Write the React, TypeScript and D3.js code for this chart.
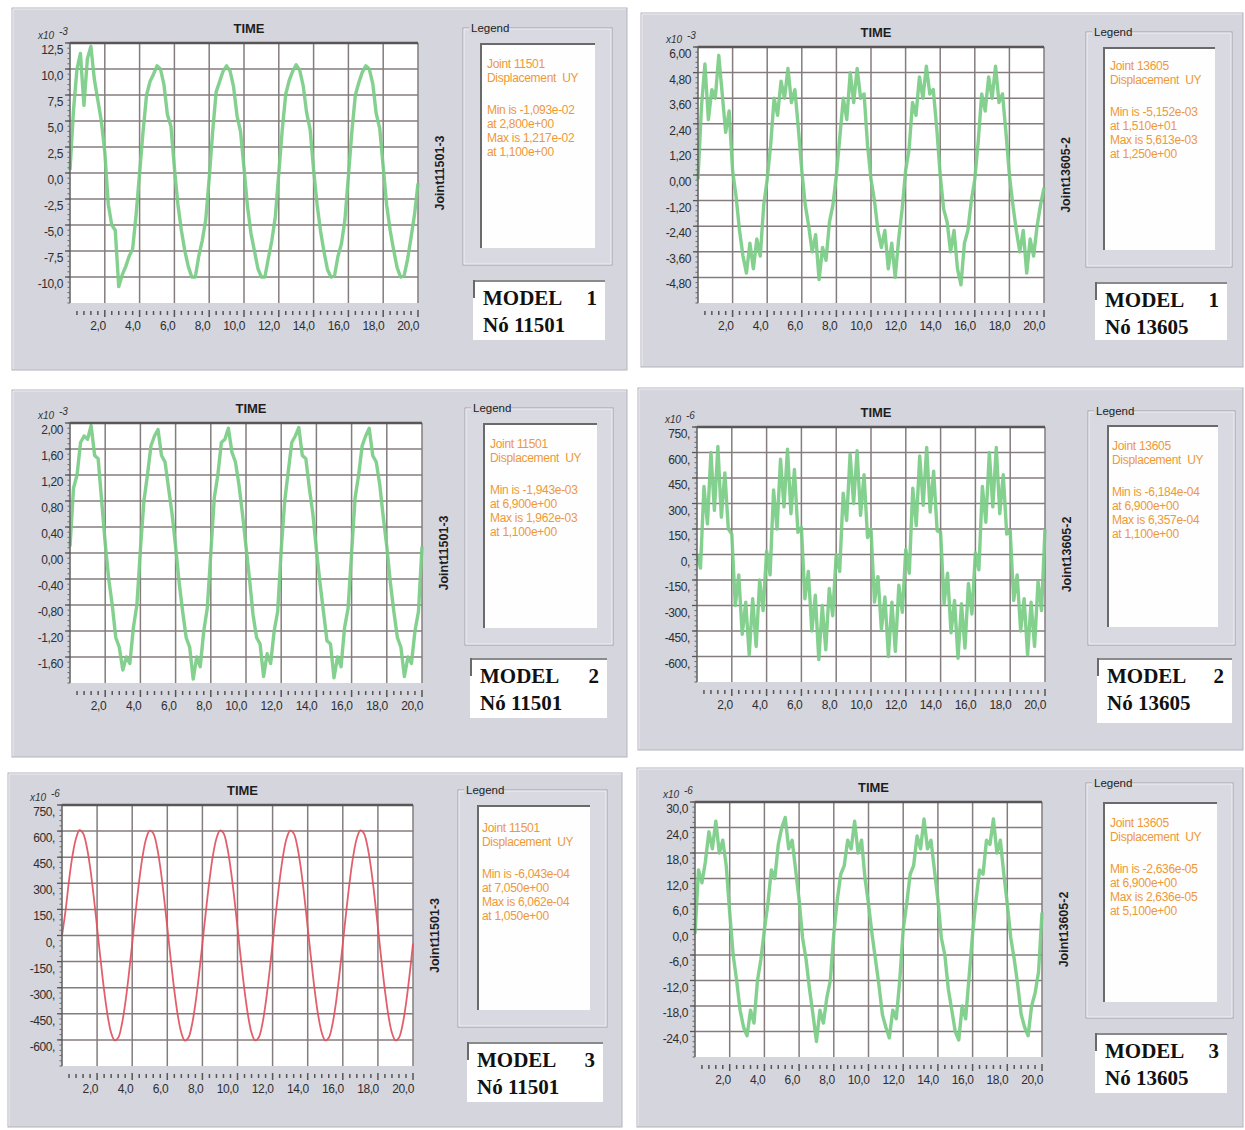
import React from "react";
import * as d3 from "d3";

// ---------- data ----------
const TIME = [0,0.2,0.4,0.6,0.8,1,1.2,1.4,1.6,1.8,2,2.2,2.4,2.6,2.8,3,3.2,3.4,3.6,3.8,
  4,4.2,4.4,4.6,4.8,5,5.2,5.4,5.6,5.8,6,6.2,6.4,6.6,6.8,7,7.2,7.4,7.6,7.8,
  8,8.2,8.4,8.6,8.8,9,9.2,9.4,9.6,9.8,10,10.2,10.4,10.6,10.8,11,11.2,11.4,11.6,11.8,
  12,12.2,12.4,12.6,12.8,13,13.2,13.4,13.6,13.8,14,14.2,14.4,14.6,14.8,15,15.2,15.4,15.6,15.8,
  16,16.2,16.4,16.6,16.8,17,17.2,17.4,17.6,17.8,18,18.2,18.4,18.6,18.8,19,19.2,19.4,19.6,19.8,20];

// Model 1, joint 11501 (x10^-3)
const M1_11501 = [
  0.3,6.0,10.0,11.5,6.5,11.0,12.17,9.0,7.0,5.0,2.0,-3.0,-5.0,-5.5,-10.93,-9.8,-9.0,-8.0,-7.3,-4.0,
  0.0,4.0,7.5,8.8,9.5,10.3,10.0,8.5,5.6,4.5,0.5,-3.0,-5.5,-7.5,-9.0,-10.0,-10.0,-8.0,-6.5,-4.5,
  -0.5,4.0,7.8,8.8,9.8,10.3,9.8,8.3,5.5,4.0,0.5,-3.2,-5.8,-7.5,-9.2,-10.0,-10.0,-8.2,-6.5,-4.2,
  0.0,4.2,7.6,8.9,9.8,10.4,9.9,8.4,5.8,4.2,0.3,-3.0,-5.6,-7.6,-9.3,-10.0,-9.9,-8.0,-6.8,-4.5,
  -0.3,4.0,7.5,8.7,9.7,10.3,10.0,8.6,5.7,4.3,0.6,-3.1,-5.5,-7.4,-9.1,-10.0,-9.9,-8.3,-6.2,-4.0,
  -1.0];

// Model 1, joint 13605 (x10^-3)
const M1_13605 = [
  -0.2,3.2,5.2,2.6,4.0,3.6,5.61,3.8,2.0,3.0,0.2,-1.0,-2.6,-3.8,-4.6,-3.2,-4.4,-3.0,-3.8,-1.4,
  -0.2,1.4,3.6,2.8,4.4,3.6,5.0,3.4,4.0,2.2,0.2,-1.4,-2.4,-3.6,-2.8,-4.9,-3.4,-4.0,-2.2,-1.4,
  0.0,1.8,3.6,2.6,4.8,3.4,5.0,3.6,3.8,1.4,-0.2,-1.2,-2.6,-3.4,-2.6,-4.4,-3.2,-4.8,-3.0,-1.6,
  0.2,1.2,3.4,2.8,4.6,3.6,5.1,3.8,4.0,2.2,0.0,-1.6,-2.2,-3.6,-2.6,-4.4,-5.15,-3.2,-2.6,-1.2,
  -0.2,1.6,3.8,3.0,4.6,3.6,5.1,3.4,3.8,2.0,0.0,-1.4,-2.6,-3.6,-2.6,-4.6,-3.0,-3.8,-2.4,-1.4,
  -0.6];

// Model 2, joint 11501 (x10^-3)
const M2_11501 = [
  0.1,1.0,1.2,1.7,1.8,1.75,1.96,1.5,1.45,0.8,0.15,-0.4,-0.8,-1.3,-1.45,-1.8,-1.6,-1.7,-1.15,-0.8,
  0.05,0.8,1.2,1.65,1.8,1.9,1.5,1.4,1.0,0.6,0.1,-0.45,-0.9,-1.3,-1.45,-1.94,-1.6,-1.75,-1.2,-0.85,
  0.0,0.85,1.2,1.7,1.75,1.92,1.55,1.4,1.05,0.6,0.1,-0.4,-0.95,-1.3,-1.4,-1.9,-1.55,-1.7,-1.2,-0.9,
  0.05,0.8,1.25,1.7,1.8,1.93,1.5,1.45,1.0,0.6,0.05,-0.45,-0.9,-1.35,-1.4,-1.92,-1.6,-1.75,-1.15,-0.85,
  0.0,0.85,1.2,1.65,1.8,1.92,1.5,1.4,1.05,0.55,0.1,-0.45,-0.9,-1.3,-1.45,-1.9,-1.6,-1.7,-1.2,-0.9,
  0.1];

// Model 2, joint 13605 (x10^-6)
const M2_13605 = [
  0,-80,400,180,600,260,636,220,480,150,120,-300,-120,-470,-280,-590,-260,-540,-150,-330,
  20,-120,380,150,560,280,620,240,500,130,160,-260,-100,-450,-240,-618,-300,-560,-200,-360,
  0,-100,360,200,590,300,610,230,470,100,150,-280,-130,-440,-250,-600,-280,-570,-180,-340,
  30,-110,390,170,580,290,630,250,490,140,130,-290,-110,-460,-270,-610,-290,-550,-170,-350,
  10,-90,400,190,600,280,630,240,470,120,140,-270,-120,-450,-260,-590,-280,-540,-160,-330,
  150];

// Model 3, joint 11501 (x10^-6)
const M3_11501 = [
  0,141,316,460,559,606,588,516,393,231,47,-141,-316,-460,-559,-603,-588,-516,-393,-231,
  -47,141,316,460,559,603,588,516,393,231,47,-141,-316,-460,-559,-604,-588,-516,-393,-231,
  -47,140,315,460,558,603,589,516,392,231,46,-141,-316,-459,-559,-603,-588,-517,-393,-230,
  -47,141,316,461,559,603,588,516,393,232,47,-140,-316,-460,-558,-603,-588,-516,-394,-231,
  -46,141,316,460,559,604,588,515,393,231,47,-141,-315,-460,-559,-603,-587,-516,-393,-231,
  -47];

// Model 3, joint 13605 (x10^-6)
const M3_13605 = [
  -1,14,11,16,23,19,25.5,18,21,15,4,-6,-12,-19,-23,-25,-19,-22,-12,-7,
  0,6,14,12,20,24,26.36,19,21,14,7,-2,-7,-14,-20,-26.36,-19,-22,-16,-12,
  -1,7,13,15,21,19,25.5,18,21,12,6,-1,-7,-13,-20,-23,-25.5,-19,-21,-12,
  0,6,13,15,22,19,26,19,21,14,7,-2,-6,-14,-19,-24,-26,-18,-21,-11,
  -1,7,14,13,21,20,26,18,21,13,6,-2,-7,-13,-20,-23,-25,-18,-15,-10,
  4];

const X_TICKS = [2,4,6,8,10,12,14,16,18,20];
const X_LABELS = ["2,0","4,0","6,0","8,0","10,0","12,0","14,0","16,0","18,0","20,0"];

const Y_TICKS_A = [-10,-7.5,-5,-2.5,0,2.5,5,7.5,10,12.5];
const Y_LABELS_A = ["-10,0","-7,5","-5,0","-2,5","0,0","2,5","5,0","7,5","10,0","12,5"];
const Y_TICKS_B = [-4.8,-3.6,-2.4,-1.2,0,1.2,2.4,3.6,4.8,6.0];
const Y_LABELS_B = ["-4,80","-3,60","-2,40","-1,20","0,00","1,20","2,40","3,60","4,80","6,00"];
const Y_TICKS_C = [-1.6,-1.2,-0.8,-0.4,0,0.4,0.8,1.2,1.6,2.0];
const Y_LABELS_C = ["-1,60","-1,20","-0,80","-0,40","0,00","0,40","0,80","1,20","1,60","2,00"];
const Y_TICKS_D = [-600,-450,-300,-150,0,150,300,450,600,750];
const Y_LABELS_D = ["-600,","-450,","-300,","-150,","0,","150,","300,","450,","600,","750,"];
const Y_TICKS_E = [-24,-18,-12,-6,0,6,12,18,24,30];
const Y_LABELS_E = ["-24,0","-18,0","-12,0","-6,0","0,0","6,0","12,0","18,0","24,0","30,0"];

const LEG_P1 = ["Joint 11501","Displacement  UY","","Min is -1,093e-02","at 2,800e+00","Max is 1,217e-02","at 1,100e+00"];
const LEG_P2 = ["Joint 13605","Displacement  UY","","Min is -5,152e-03","at 1,510e+01","Max is 5,613e-03","at 1,250e+00"];
const LEG_P3 = ["Joint 11501","Displacement  UY","","Min is -1,943e-03","at 6,900e+00","Max is 1,962e-03","at 1,100e+00"];
const LEG_P4 = ["Joint 13605","Displacement  UY","","Min is -6,184e-04","at 6,900e+00","Max is 6,357e-04","at 1,100e+00"];
const LEG_P5 = ["Joint 11501","Displacement  UY","","Min is -6,043e-04","at 7,050e+00","Max is 6,062e-04","at 1,050e+00"];
const LEG_P6 = ["Joint 13605","Displacement  UY","","Min is -2,636e-05","at 6,900e+00","Max is 2,636e-05","at 5,100e+00"];

// ---------- layout ----------
const GREEN = "#79cc85";
const RED = "#e0525e";
const SANS = "'Liberation Sans', Arial, sans-serif";
const SERIF = "'Liberation Serif', 'Times New Roman', serif";

const PANELS = [
  { frame:[12,8,615,362], plot:[70,43,348,260], domain:[-12.5,12.5], yTicks:Y_TICKS_A, yLabels:Y_LABELS_A,
    exp:"-3", joint:"Joint11501-3", legFrame:[463,28,149,237], legInner:[480,43,115,205], legText:[487,68],
    legLines:LEG_P1, model:[473,280,132,60], modelNum:"1", node:"Nó 11501", data:M1_11501, color:GREEN, smooth:false },
  { frame:[641,13,602,354], plot:[698,47,346,256], domain:[-6,6], yTicks:Y_TICKS_B, yLabels:Y_LABELS_B,
    exp:"-3", joint:"Joint13605-2", legFrame:[1086,32,146,235], legInner:[1103,47,112,203], legText:[1110,70],
    legLines:LEG_P2, model:[1095,282,132,58], modelNum:"1", node:"Nó 13605", data:M1_13605, color:GREEN, smooth:false },
  { frame:[12,390,615,367], plot:[70,423,352,260], domain:[-2,2], yTicks:Y_TICKS_C, yLabels:Y_LABELS_C,
    exp:"-3", joint:"Joint11501-3", legFrame:[465,408,148,237], legInner:[483,423,114,205], legText:[490,448],
    legLines:LEG_P3, model:[470,658,137,60], modelNum:"2", node:"Nó 11501", data:M2_11501, color:GREEN, smooth:false },
  { frame:[638,388,605,362], plot:[697,427,348,255], domain:[-750,750], yTicks:Y_TICKS_D, yLabels:Y_LABELS_D,
    exp:"-6", joint:"Joint13605-2", legFrame:[1088,411,147,234], legInner:[1107,425,111,202], legText:[1112,450],
    legLines:LEG_P4, model:[1097,658,135,65], modelNum:"2", node:"Nó 13605", data:M2_13605, color:GREEN, smooth:false },
  { frame:[8,773,614,354], plot:[62,805,351,261], domain:[-750,750], yTicks:Y_TICKS_D, yLabels:Y_LABELS_D,
    exp:"-6", joint:"Joint11501-3", legFrame:[458,790,149,237], legInner:[477,805,113,205], legText:[482,832],
    legLines:LEG_P5, model:[467,1042,136,60], modelNum:"3", node:"Nó 11501", data:M3_11501, color:RED, smooth:true },
  { frame:[637,768,606,359], plot:[695,802,347,255], domain:[-30,30], yTicks:Y_TICKS_E, yLabels:Y_LABELS_E,
    exp:"-6", joint:"Joint13605-2", legFrame:[1086,783,147,235], legInner:[1103,802,114,200], legText:[1110,827],
    legLines:LEG_P6, model:[1095,1033,132,60], modelNum:"3", node:"Nó 13605", data:M3_13605, color:GREEN, smooth:false },
];

const LEG_OFFSETS = [0,14,0,46,60,74,88];

function Panel({ c }: { c: any }) {
  const [fx, fy, fw, fh] = c.frame;
  const [px, py, pw, ph] = c.plot;
  const bottom = py + ph;
  const x = d3.scaleLinear().domain([0, 20]).range([px, px + pw]);
  const y = d3.scaleLinear().domain(c.domain).range([bottom, py]);
  const line = d3.line<number>()
    .x((_d, i) => x(TIME[i]))
    .y((d) => y(d))
    .curve(c.smooth ? d3.curveCatmullRom : d3.curveLinear);
  const step = c.yTicks[1] - c.yTicks[0];
  const minorY = d3.range(c.domain[0], c.domain[1] + step / 10, step / 5);
  const minorX = d3.range(0.4, 20.01, 0.4).filter((t) => Math.abs(t / 2 - Math.round(t / 2)) > 0.01);
  const [lx, ly, lw, lh] = c.legFrame;
  const [ix, iy, iw, ih] = c.legInner;
  const [mx, my, mw, mh] = c.model;
  const jointY = py + ph / 2;
  return (
    <g>
      {/* panel background */}
      <rect x={fx} y={fy} width={fw} height={fh} fill="#d5d5dd" stroke="#b4b4bc" strokeWidth={1} />
      <line x1={fx + 1} y1={fy + 1} x2={fx + fw - 1} y2={fy + 1} stroke="#ececf0" />
      <line x1={fx + 1} y1={fy + 1} x2={fx + 1} y2={fy + fh - 1} stroke="#ececf0" />
      {/* plot area */}
      <rect x={px} y={py} width={pw} height={ph} fill="#ffffff" />
      {c.yTicks.map((v: number, i: number) => (
        <line key={"hg" + i} x1={px} x2={px + pw} y1={y(v)} y2={y(v)} stroke="#857d7d" strokeWidth={1.5} />
      ))}
      {X_TICKS.map((t, i) => (
        <line key={"vg" + i} x1={x(t)} x2={x(t)} y1={py} y2={bottom} stroke="#857d7d" strokeWidth={1.5} />
      ))}
      <path d={line(c.data) || ""} fill="none" stroke={c.color}
        strokeWidth={c.smooth ? 1.8 : 3.4} strokeLinejoin="round" strokeOpacity={0.92} />
      {/* top border */}
      <line x1={px} x2={px + pw} y1={py} y2={py} stroke="#5a5656" strokeWidth={2.5} />
      {/* left axis */}
      <line x1={px} x2={px} y1={py} y2={bottom} stroke="#5f5f5f" strokeWidth={1.5} />
      {minorY.map((v, i) => (
        <line key={"my" + i} x1={px - 2.5} x2={px} y1={y(v)} y2={y(v)} stroke="#6a6a6a" strokeWidth={1} />
      ))}
      {c.yTicks.map((v: number, i: number) => (
        <line key={"My" + i} x1={px - 5} x2={px} y1={y(v)} y2={y(v)} stroke="#555" strokeWidth={1.3} />
      ))}
      {c.yTicks.map((v: number, i: number) => (
        <text key={"yl" + i} x={px - 7} y={y(v) + 11} textAnchor="end" fontFamily={SANS}
          fontSize={12} fill="#2e2e2e" letterSpacing={-0.4}>{c.yLabels[i]}</text>
      ))}
      {/* bottom tick row */}
      {minorX.map((t, i) => (
        <line key={"mx" + i} x1={x(t)} x2={x(t)} y1={bottom + 8} y2={bottom + 12} stroke="#555" strokeWidth={1.5} />
      ))}
      {X_TICKS.map((t, i) => (
        <line key={"Mx" + i} x1={x(t)} x2={x(t)} y1={bottom + 7} y2={bottom + 14} stroke="#555" strokeWidth={1.5} />
      ))}
      {X_TICKS.map((t, i) => (
        <text key={"xl" + i} x={x(t) + 1} y={bottom + 27} textAnchor="end" fontFamily={SANS}
          fontSize={12} fill="#2e2e2e" letterSpacing={-0.4}>{X_LABELS[i]}</text>
      ))}
      {/* title & exponent */}
      <text x={px + pw / 2 + 5} y={py - 10} textAnchor="middle" fontFamily={SANS} fontWeight="bold"
        fontSize={13} fill="#1e1e1e">TIME</text>
      <text x={px - 32} y={py - 4} fontFamily={SANS} fontStyle="italic" fontSize={10} fill="#333">x10</text>
      <text x={px - 11} y={py - 8} fontFamily={SANS} fontStyle="italic" fontSize={10} fill="#333">{c.exp}</text>
      {/* joint label */}
      <text transform={`translate(${px + pw + 26},${jointY}) rotate(-90)`} textAnchor="middle"
        fontFamily={SANS} fontWeight="bold" fontSize={12.5} fill="#1e1e1e">{c.joint}</text>
      {/* legend frame */}
      <rect x={lx} y={ly} width={lw} height={lh} fill="#d9d9e1" stroke="#a2a2aa" strokeWidth={1} />
      <rect x={lx + 1} y={ly + 1} width={lw - 2} height={lh - 2} fill="none" stroke="#efeff3" strokeWidth={1} />
      <rect x={lx + 6} y={ly - 6} width={40} height={12} fill="#d5d5dd" />
      <text x={lx + 8} y={ly + 4} fontFamily={SANS} fontSize={11.5} fill="#222">Legend</text>
      <rect x={ix} y={iy} width={iw} height={ih} fill="#fefefe" />
      <line x1={ix} x2={ix + iw} y1={iy + 1} y2={iy + 1} stroke="#6a6a6a" strokeWidth={2} />
      <line x1={ix + 1} x2={ix + 1} y1={iy} y2={iy + ih} stroke="#6a6a6a" strokeWidth={2} />
      {c.legLines.map((s: string, i: number) => (
        <text key={"lg" + i} x={c.legText[0]} y={c.legText[1] + LEG_OFFSETS[i]} fontFamily={SANS}
          fontSize={12} fill="#ee9838" letterSpacing={-0.3} style={{ whiteSpace: "pre" }}>{s}</text>
      ))}
      {/* model box */}
      <rect x={mx} y={my} width={mw} height={mh} fill="#ffffff" />
      <line x1={mx} x2={mx + mw} y1={my + 1} y2={my + 1} stroke="#8a8a8a" strokeWidth={2} />
      <line x1={mx + 1} x2={mx + 1} y1={my} y2={my + 18} stroke="#6a6a6a" strokeWidth={2} />
      <text x={mx + 10} y={my + 25} fontFamily={SERIF} fontWeight="bold" fontSize={21} fill="#111">MODEL</text>
      <text x={mx + mw - 8} y={my + 25} textAnchor="end" fontFamily={SERIF} fontWeight="bold" fontSize={21} fill="#111">{c.modelNum}</text>
      <text x={mx + 10} y={my + 52} fontFamily={SERIF} fontWeight="bold" fontSize={21} fill="#111">{c.node}</text>
    </g>
  );
}

export default function App() {
  return (
    <svg width={1245} height={1130} viewBox="0 0 1245 1130"
      style={{ position: "absolute", left: 0, top: 0, background: "#ffffff" }}>
      <rect x={0} y={0} width={1245} height={1130} fill="#ffffff" />
      {PANELS.map((c, i) => <Panel key={i} c={c} />)}
    </svg>
  );
}
